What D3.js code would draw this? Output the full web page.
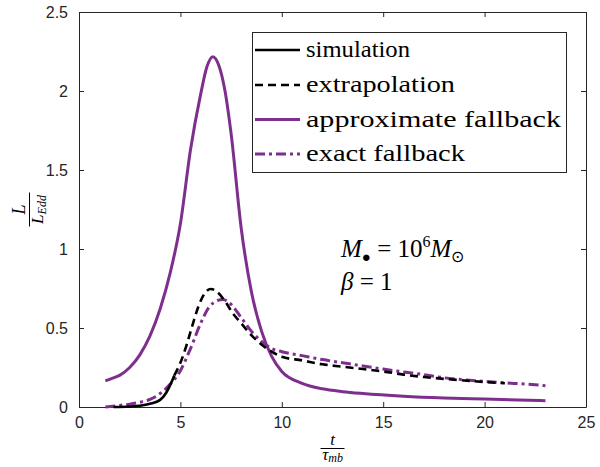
<!DOCTYPE html>
<html>
<head>
<style>
body { margin: 0; background: #fff; }
.tick text { font-family: "Liberation Sans", Arial, sans-serif; font-size: 16px; fill: #262626; }
.tick line, .domain { stroke: #262626; }
.tex { font-family: "Liberation Serif", "Times New Roman", serif; fill: #000; }
</style>
<script src="https://d3js.org/d3.v7.min.js"></script>
</head>
<body>
<svg width="600" height="467"></svg>
<script>
// approximate fallback (purple solid)
var approxT = [1.3, 1.6, 2, 2.5, 3, 3.5, 4, 4.5, 5, 5.5, 6, 6.3, 6.6, 6.9, 7.2, 7.5, 8, 8.5, 9, 9.5, 10, 11, 12, 13, 14, 16, 18, 20, 23];
var approxL = [0.165, 0.18, 0.2, 0.25, 0.33, 0.45, 0.62, 0.85, 1.16, 1.63, 1.98, 2.15, 2.217, 2.16, 2.0, 1.73, 1.13, 0.73, 0.48, 0.32, 0.225, 0.15, 0.115, 0.097, 0.085, 0.068, 0.057, 0.05, 0.04];
// simulation (black solid)
var simT = [1.7, 2.5, 3, 3.5, 4, 4.3, 4.5, 4.7];
var simL = [0, 0.003, 0.008, 0.02, 0.045, 0.09, 0.14, 0.2];
// extrapolation (black dashed)
var extT = [4.7, 5, 5.3, 5.6, 5.9, 6.2, 6.5, 6.8, 7.2, 7.6, 8, 8.5, 9, 9.5, 10, 11, 12, 13, 14, 15, 16, 17, 18, 19, 20, 21];
var extL = [0.2, 0.28, 0.39, 0.52, 0.64, 0.72, 0.747, 0.73, 0.67, 0.59, 0.53, 0.455, 0.395, 0.35, 0.318, 0.295, 0.27, 0.255, 0.24, 0.225, 0.205, 0.19, 0.178, 0.168, 0.158, 0.15];
// exact fallback (purple dash-dot)
var exactT = [1.3, 2, 2.5, 3, 3.5, 4, 4.5, 5, 5.5, 6, 6.4, 6.8, 7.1, 7.5, 8, 8.5, 9, 9.5, 10, 11, 12, 13, 14, 15, 16, 17, 18, 19, 20, 21, 22, 23];
var exactL = [0, 0.01, 0.018, 0.03, 0.048, 0.085, 0.145, 0.23, 0.37, 0.53, 0.63, 0.672, 0.681, 0.65, 0.565, 0.48, 0.415, 0.37, 0.35, 0.325, 0.3, 0.28, 0.26, 0.24, 0.222, 0.205, 0.185, 0.172, 0.162, 0.153, 0.145, 0.135];

var xTicks = [0, 5, 10, 15, 20, 25];
var yTicks = [0, 0.5, 1, 1.5, 2, 2.5];
var legendNames = ["simulation", "extrapolation", "approximate fallback", "exact fallback"];

var purple = "#7E2F8E";
var mLeft = 79, mRight = 586, mTop = 12, mBottom = 407;

var svg = d3.select("svg");
var x = d3.scaleLinear().domain([0, 25]).range([mLeft, mRight]);
var y = d3.scaleLinear().domain([0, 2.5]).range([mBottom, mTop]);

function zipped(ts, ls) { return ts.map(function(t, i) { return [t, ls[i]]; }); }

var line = d3.line()
  .x(function(d) { return x(d[0]); })
  .y(function(d) { return y(d[1]); })
  .curve(d3.curveMonotoneX);

var series = [
  { data: zipped(simT, simL), color: "#000", width: 2.6, dash: null },
  { data: zipped(extT, extL), color: "#000", width: 2.6, dash: "8,5" },
  { data: zipped(approxT, approxL), color: purple, width: 3, dash: null },
  { data: zipped(exactT, exactL), color: purple, width: 3, dash: "10,4,3,4" }
];

// axes, ticks inward on all sides
svg.append("g").attr("transform", "translate(0," + mBottom + ")")
  .call(d3.axisBottom(x).tickValues(xTicks).tickSizeInner(-5).tickSizeOuter(0).tickPadding(10));
svg.append("g").attr("transform", "translate(0," + mTop + ")")
  .call(d3.axisTop(x).tickValues(xTicks).tickSizeInner(-5).tickSizeOuter(0).tickFormat(""));
svg.append("g").attr("transform", "translate(" + mLeft + ",0)")
  .call(d3.axisLeft(y).tickValues(yTicks).tickSizeInner(-5).tickSizeOuter(0).tickPadding(11).tickFormat(d3.format("")));
svg.append("g").attr("transform", "translate(" + mRight + ",0)")
  .call(d3.axisRight(y).tickValues(yTicks).tickSizeInner(-5).tickSizeOuter(0).tickFormat(""));
svg.selectAll(".domain").attr("stroke-width", 1);
svg.selectAll(".tick text").attr("font-family", "Liberation Sans, Arial, sans-serif").attr("font-size", 16);

var drawOrder = [2, 3, 1, 0];
var plot = svg.append("g");
drawOrder.forEach(function(i) {
  var s = series[i];
  plot.append("path")
    .attr("d", line(s.data))
    .attr("fill", "none")
    .attr("stroke", s.color)
    .attr("stroke-width", s.width)
    .attr("stroke-dasharray", s.dash);
});

// legend
var lg = svg.append("g");
lg.append("rect").attr("x", 252.5).attr("y", 32.5).attr("width", 314).attr("height", 140)
  .attr("fill", "#fff").attr("stroke", "#262626").attr("stroke-width", 1);
var legendY = [50, 85, 119.5, 154];
var legendW = [104, 149, 255, 159];
legendNames.forEach(function(name, i) {
  var s = series[i];
  lg.append("line").attr("x1", 255).attr("x2", 300).attr("y1", legendY[i]).attr("y2", legendY[i])
    .attr("stroke", s.color).attr("stroke-width", s.width).attr("stroke-dasharray", s.dash);
  lg.append("text").attr("class", "tex").attr("x", 306).attr("y", legendY[i] + 7)
    .attr("font-size", 23).attr("textLength", legendW[i]).attr("lengthAdjust", "spacingAndGlyphs")
    .text(name);
});

// annotation
var ann = svg.append("text").attr("class", "tex").attr("x", 341).attr("y", 257).attr("font-size", 25);
ann.append("tspan").attr("font-style", "italic").text("M");
ann.append("tspan").attr("font-size", 15).attr("dy", 5).text("\u25CF");
ann.append("tspan").attr("dy", -5).text(" = 10");
ann.append("tspan").attr("font-size", 16).attr("dy", -10).text("6");
ann.append("tspan").attr("dy", 10).attr("font-style", "italic").text("M");
ann.append("tspan").attr("font-size", 16).attr("dy", 5).text("\u2299");
var ann2 = svg.append("text").attr("class", "tex").attr("x", 341).attr("y", 290).attr("font-size", 25);
ann2.append("tspan").attr("font-style", "italic").text("\u03B2");
ann2.append("tspan").text(" = 1");

// x label: t / tau_mb
var xl = svg.append("g").attr("transform", "translate(" + ((mLeft + mRight) / 2) + ",0)");
xl.append("text").attr("class", "tex").attr("text-anchor", "middle").attr("y", 445)
  .attr("font-size", 17).attr("font-style", "italic").text("t");
xl.append("line").attr("x1", -12).attr("x2", 12).attr("y1", 448.5).attr("y2", 448.5)
  .attr("stroke", "#000").attr("stroke-width", 1);
var tau = xl.append("text").attr("class", "tex").attr("text-anchor", "middle").attr("y", 460)
  .attr("font-size", 17).attr("font-style", "italic");
tau.append("tspan").text("\u03C4");
tau.append("tspan").attr("font-size", 12).attr("dy", 2).text("mb");

// y label: L / L_Edd
var yl = svg.append("g").attr("transform", "translate(29," + ((mTop + mBottom) / 2) + ") rotate(-90)");
yl.append("text").attr("class", "tex").attr("text-anchor", "middle").attr("y", -4)
  .attr("font-size", 18).attr("font-style", "italic").text("L");
yl.append("line").attr("x1", -17).attr("x2", 17).attr("y1", 0.5).attr("y2", 0.5)
  .attr("stroke", "#000").attr("stroke-width", 1);
var led = yl.append("text").attr("class", "tex").attr("text-anchor", "middle").attr("y", 14)
  .attr("font-size", 17).attr("font-style", "italic");
led.append("tspan").text("L");
led.append("tspan").attr("font-size", 12).attr("dy", 3).text("Edd");
</script>
</body>
</html>
